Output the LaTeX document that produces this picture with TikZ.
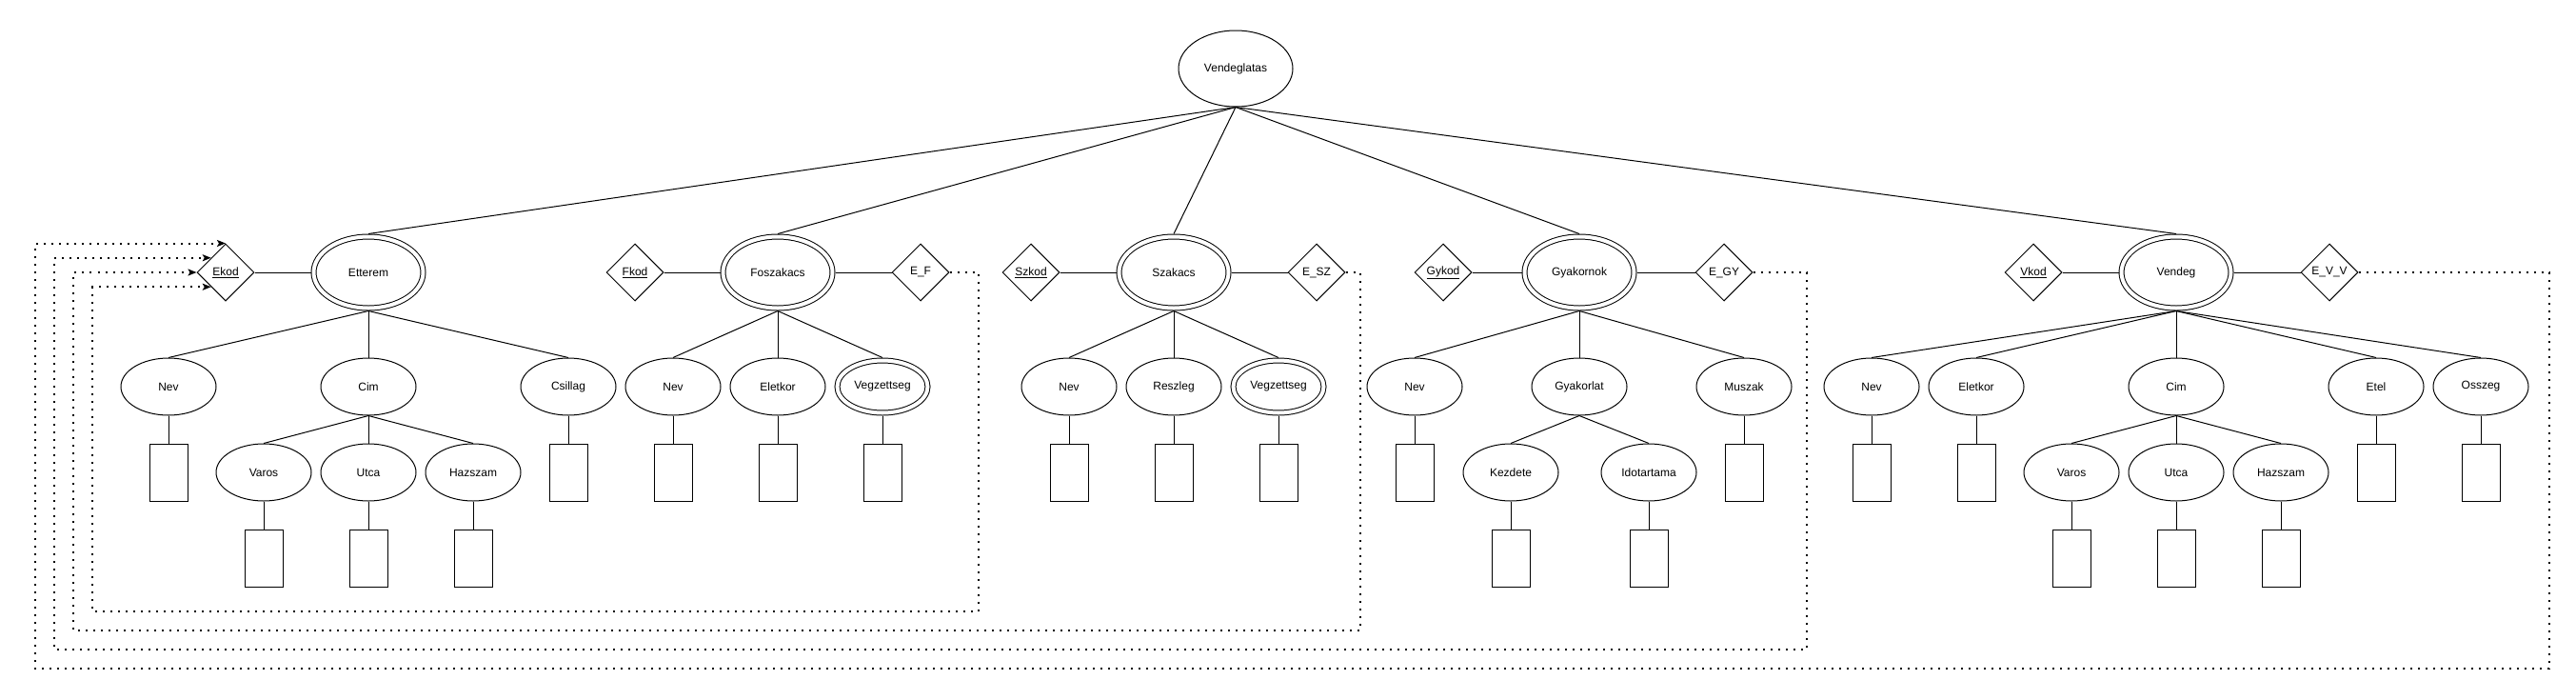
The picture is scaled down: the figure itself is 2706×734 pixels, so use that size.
\documentclass[tikz,border=0pt]{standalone}
\usepackage{fontspec}
\setmainfont{Liberation Sans}
\usetikzlibrary{shapes.geometric,arrows.meta,positioning}
\tikzset
{
    entity/.style    = {ellipse, draw, double, double distance=4pt, minimum width=115pt, minimum height=75pt, inner sep=0pt, outer sep=3pt},
    attrib/.style    = {ellipse, draw, minimum width=100pt, minimum height=60pt, inner sep=0pt},
    multiattr/.style = {ellipse, draw, double, double distance=4pt, minimum width=95pt, minimum height=55pt, inner sep=0pt, outer sep=3pt},
    keyrel/.style    = {diamond, draw, minimum width=60pt, minimum height=60pt, inner sep=0pt},
    valbox/.style    = {rectangle, draw, minimum width=40pt, minimum height=60pt, inner sep=0pt},
    fklink/.style    = {line width=2pt, dash pattern=on 2pt off 6pt, -{Stealth[length=9pt, width=7pt, inset=2pt]}}
}

\begin{document}
\begin{tikzpicture}[x=1pt, y=-1pt, line width=1pt, font=\fontsize{12pt}{14pt}\selectfont]

   \newcommand\KEYDX{150}
   \newcommand\ATTRDY{120}
   \newcommand\BOXDY{90}

   \useasboundingbox (0, 0) rectangle (2706, 734);

   \node (root)      [attrib, minimum width=120pt, minimum height=80pt] at (1298, 72) {Vendeglatas};

   % Etterem
   \node (etterem)   [entity]    at (387, 286)                               {Etterem};
   \node (ekod)      [keyrel]    at ([shift=({-\KEYDX, 0})]etterem)           {\underline{Ekod}};
   \node (enev)      [attrib]    at ([shift=({-210, \ATTRDY})]etterem)        {Nev};
   \node (ecim)      [attrib]    at ([shift=({0, \ATTRDY})]etterem)           {Cim};
   \node (ecsillag)  [attrib]    at ([shift=({210, \ATTRDY})]etterem)         {Csillag};
   \node (evaros)    [attrib]    at ([shift=({-110, \BOXDY})]ecim)            {Varos};
   \node (eutca)     [attrib]    at ([shift=({0, \BOXDY})]ecim)               {Utca};
   \node (ehazszam)  [attrib]    at ([shift=({110, \BOXDY})]ecim)             {Hazszam};
   \node (enevb)     [valbox]    at ([shift=({0, \BOXDY})]enev)               {};
   \node (ecsillagb) [valbox]    at ([shift=({0, \BOXDY})]ecsillag)           {};
   \node (evarosb)   [valbox]    at ([shift=({0, \BOXDY})]evaros)             {};
   \node (eutcab)    [valbox]    at ([shift=({0, \BOXDY})]eutca)              {};
   \node (ehazszamb) [valbox]    at ([shift=({0, \BOXDY})]ehazszam)           {};

   % Foszakacs
   \node (foszakacs) [entity]    at (817, 286)                               {Foszakacs};
   \node (fkod)      [keyrel]    at ([shift=({-\KEYDX, 0})]foszakacs)         {\underline{Fkod}};
   \node (ef)        [keyrel]    at ([shift=({\KEYDX, 0})]foszakacs)          {E\_F};
   \node (fnev)      [attrib]    at ([shift=({-110, \ATTRDY})]foszakacs)      {Nev};
   \node (feletkor)  [attrib]    at ([shift=({0, \ATTRDY})]foszakacs)         {Eletkor};
   \node (fvegz)     [multiattr] at ([shift=({110, \ATTRDY})]foszakacs)       {Vegzettseg};
   \node (fnevb)     [valbox]    at ([shift=({0, \BOXDY})]fnev)               {};
   \node (feletkorb) [valbox]    at ([shift=({0, \BOXDY})]feletkor)           {};
   \node (fvegzb)    [valbox]    at ([shift=({0, \BOXDY})]fvegz)              {};

   % Szakacs
   \node (szakacs)   [entity]    at (1233, 286)                              {Szakacs};
   \node (szkod)     [keyrel]    at ([shift=({-\KEYDX, 0})]szakacs)           {\underline{Szkod}};
   \node (esz)       [keyrel]    at ([shift=({\KEYDX, 0})]szakacs)            {E\_SZ};
   \node (snev)      [attrib]    at ([shift=({-110, \ATTRDY})]szakacs)        {Nev};
   \node (sreszleg)  [attrib]    at ([shift=({0, \ATTRDY})]szakacs)           {Reszleg};
   \node (svegz)     [multiattr] at ([shift=({110, \ATTRDY})]szakacs)         {Vegzettseg};
   \node (snevb)     [valbox]    at ([shift=({0, \BOXDY})]snev)               {};
   \node (sreszlegb) [valbox]    at ([shift=({0, \BOXDY})]sreszleg)           {};
   \node (svegzb)    [valbox]    at ([shift=({0, \BOXDY})]svegz)              {};

   % Gyakornok
   \node (gyakornok) [entity]    at (1659, 286)                              {Gyakornok};
   \node (gykod)     [keyrel]    at ([shift=({-143, 0})]gyakornok)            {\underline{Gykod}};
   \node (egy)       [keyrel]    at ([shift=({152, 0})]gyakornok)             {E\_GY};
   \node (gnev)      [attrib]    at ([shift=({-173, \ATTRDY})]gyakornok)      {Nev};
   \node (ggyak)     [attrib]    at ([shift=({0, \ATTRDY})]gyakornok)         {Gyakorlat};
   \node (gmuszak)   [attrib]    at ([shift=({173, \ATTRDY})]gyakornok)       {Muszak};
   \node (gkezd)     [attrib]    at ([shift=({-72, \BOXDY})]ggyak)            {Kezdete};
   \node (gido)      [attrib]    at ([shift=({73, \BOXDY})]ggyak)             {Idotartama};
   \node (gnevb)     [valbox]    at ([shift=({0, \BOXDY})]gnev)               {};
   \node (gmuszakb)  [valbox]    at ([shift=({0, \BOXDY})]gmuszak)            {};
   \node (gkezdb)    [valbox]    at ([shift=({0, \BOXDY})]gkezd)              {};
   \node (gidob)     [valbox]    at ([shift=({0, \BOXDY})]gido)               {};

   % Vendeg
   \node (vendeg)    [entity]    at (2286, 286)                              {Vendeg};
   \node (vkod)      [keyrel]    at ([shift=({-\KEYDX, 0})]vendeg)            {\underline{Vkod}};
   \node (evv)       [keyrel]    at ([shift=({161, 0})]vendeg)                {E\_V\_V};
   \node (vnev)      [attrib]    at ([shift=({-320, \ATTRDY})]vendeg)         {Nev};
   \node (veletkor)  [attrib]    at ([shift=({-210, \ATTRDY})]vendeg)         {Eletkor};
   \node (vcim)      [attrib]    at ([shift=({0, \ATTRDY})]vendeg)            {Cim};
   \node (vetel)     [attrib]    at ([shift=({210, \ATTRDY})]vendeg)          {Etel};
   \node (vosszeg)   [attrib]    at ([shift=({320, \ATTRDY})]vendeg)          {Osszeg};
   \node (vvaros)    [attrib]    at ([shift=({-110, \BOXDY})]vcim)            {Varos};
   \node (vutca)     [attrib]    at ([shift=({0, \BOXDY})]vcim)               {Utca};
   \node (vhazszam)  [attrib]    at ([shift=({110, \BOXDY})]vcim)             {Hazszam};
   \node (vnevb)     [valbox]    at ([shift=({0, \BOXDY})]vnev)               {};
   \node (veletkorb) [valbox]    at ([shift=({0, \BOXDY})]veletkor)           {};
   \node (vetelb)    [valbox]    at ([shift=({0, \BOXDY})]vetel)              {};
   \node (vosszegb)  [valbox]    at ([shift=({0, \BOXDY})]vosszeg)            {};
   \node (vvarosb)   [valbox]    at ([shift=({0, \BOXDY})]vvaros)             {};
   \node (vutcab)    [valbox]    at ([shift=({0, \BOXDY})]vutca)              {};
   \node (vhazszamb) [valbox]    at ([shift=({0, \BOXDY})]vhazszam)           {};

   % lanes of the dotted links
   \coordinate (laneF)  at (97, 642);
   \coordinate (laneSZ) at (77, 662);
   \coordinate (laneGY) at (57, 682);
   \coordinate (laneVV) at (37, 702);

   \path
      (root.south)      edge (etterem.north)
      (root.south)      edge (foszakacs.north)
      (root.south)      edge (szakacs.north)
      (root.south)      edge (gyakornok.north)
      (root.south)      edge (vendeg.north)
      (ekod)            edge (etterem)
      (fkod)            edge (foszakacs)
      (foszakacs)       edge (ef)
      (szkod)           edge (szakacs)
      (szakacs)         edge (esz)
      (gykod)           edge (gyakornok)
      (gyakornok)       edge (egy)
      (vkod)            edge (vendeg)
      (vendeg)          edge (evv)
      (etterem.south)   edge (enev.north)
      (etterem.south)   edge (ecim.north)
      (etterem.south)   edge (ecsillag.north)
      (ecim.south)      edge (evaros.north)
      (ecim.south)      edge (eutca.north)
      (ecim.south)      edge (ehazszam.north)
      (enev.south)      edge (enevb.north)
      (ecsillag.south)  edge (ecsillagb.north)
      (evaros.south)    edge (evarosb.north)
      (eutca.south)     edge (eutcab.north)
      (ehazszam.south)  edge (ehazszamb.north)
      (foszakacs.south) edge (fnev.north)
      (foszakacs.south) edge (feletkor.north)
      (foszakacs.south) edge (fvegz.north)
      (fnev.south)      edge (fnevb.north)
      (feletkor.south)  edge (feletkorb.north)
      (fvegz.south)     edge (fvegzb.north)
      (szakacs.south)   edge (snev.north)
      (szakacs.south)   edge (sreszleg.north)
      (szakacs.south)   edge (svegz.north)
      (snev.south)      edge (snevb.north)
      (sreszleg.south)  edge (sreszlegb.north)
      (svegz.south)     edge (svegzb.north)
      (gyakornok.south) edge (gnev.north)
      (gyakornok.south) edge (ggyak.north)
      (gyakornok.south) edge (gmuszak.north)
      (ggyak.south)     edge (gkezd.north)
      (ggyak.south)     edge (gido.north)
      (gnev.south)      edge (gnevb.north)
      (gmuszak.south)   edge (gmuszakb.north)
      (gkezd.south)     edge (gkezdb.north)
      (gido.south)      edge (gidob.north)
      (vendeg.south)    edge (vnev.north)
      (vendeg.south)    edge (veletkor.north)
      (vendeg.south)    edge (vcim.north)
      (vendeg.south)    edge (vetel.north)
      (vendeg.south)    edge (vosszeg.north)
      (vcim.south)      edge (vvaros.north)
      (vcim.south)      edge (vutca.north)
      (vcim.south)      edge (vhazszam.north)
      (vnev.south)      edge (vnevb.north)
      (veletkor.south)  edge (veletkorb.north)
      (vetel.south)     edge (vetelb.north)
      (vosszeg.south)   edge (vosszegb.north)
      (vvaros.south)    edge (vvarosb.north)
      (vutca.south)     edge (vutcab.north)
      (vhazszam.south)  edge (vhazszamb.north);

   % foreign keys back to Ekod
   \draw[fklink] (ef.east)  -- ++(30, 0)  |- (laneF)  |- (ekod.south west);
   \draw[fklink] (esz.east) -- ++(15, 0)  |- (laneSZ) |- (ekod.west);
   \draw[fklink] (egy.east) -- ++(56, 0)  |- (laneGY) |- (ekod.north west);
   \draw[fklink] (evv.east) -- ++(200, 0) |- (laneVV) |- (ekod.north);
\end{tikzpicture}
\end{document}
